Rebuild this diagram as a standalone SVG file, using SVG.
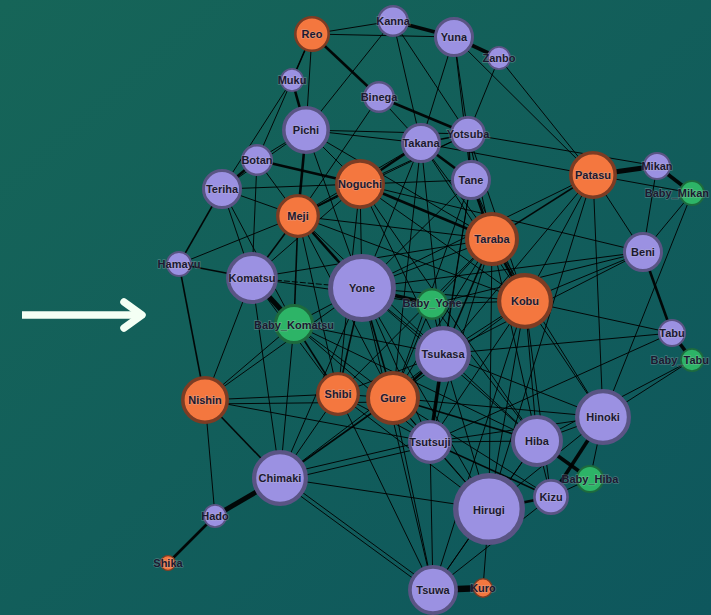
<svg xmlns="http://www.w3.org/2000/svg" width="711" height="615" viewBox="0 0 711 615">
<defs>
<linearGradient id="bg" x1="0" y1="0" x2="1" y2="1">
<stop offset="0" stop-color="#166558"/>
<stop offset="1" stop-color="#0e575d"/>
</linearGradient>
<style>
.ed line{stroke:#000;stroke-width:1;stroke-opacity:0.92}
.ed .w2{stroke-width:1.6}
.ed .w3{stroke-width:2.6}
.ed .w4{stroke-width:3.6}
.ed .w5{stroke-width:5}
.ed .w6{stroke-width:6.5}
.p circle{fill:#9b91e2;stroke:#5a5484}
.o circle{fill:#f4773f;stroke:#7c3c24}
.g circle{fill:#2db467;stroke:#1d6a3e}
text{font-family:"Liberation Sans",Arial,sans-serif;font-weight:bold;font-size:11px;fill:#1c1930;text-anchor:middle;paint-order:stroke;stroke:#c8c8d0;stroke-opacity:0.3;stroke-width:1.4}
text.r{text-anchor:end}
</style>
</defs>
<rect width="711" height="615" fill="url(#bg)"/>
<g id="arrow" stroke="#f4fff4" stroke-width="7.5" stroke-linecap="round" stroke-linejoin="round" fill="none">
<line x1="22" y1="315" x2="141" y2="315" stroke-linecap="butt"/>
<polyline points="124,302 142,315 124,328"/>
</g>
<g id="edges" class="ed">
<line x1="312" y1="34" x2="393" y2="21"/>
<line x1="312" y1="34" x2="454" y2="37"/>
<line class="w4" x1="393" y1="21" x2="454" y2="37"/>
<line class="w3" x1="312" y1="34" x2="379" y2="97"/>
<line class="w2" x1="312" y1="34" x2="292" y2="80"/>
<line x1="312" y1="34" x2="306" y2="130"/>
<line x1="312" y1="34" x2="257" y2="160"/>
<line x1="393" y1="21" x2="306" y2="130"/>
<line x1="393" y1="21" x2="421" y2="143"/>
<line x1="393" y1="21" x2="468" y2="134"/>
<line class="w3" x1="292" y1="80" x2="306" y2="130"/>
<line x1="292" y1="80" x2="222" y2="189"/>
<line x1="379" y1="97" x2="298" y2="216"/>
<line x1="379" y1="97" x2="421" y2="143"/>
<line class="w3" x1="379" y1="97" x2="468" y2="134"/>
<line x1="306" y1="130" x2="421" y2="143"/>
<line x1="306" y1="130" x2="468" y2="134"/>
<line x1="306" y1="130" x2="257" y2="160"/>
<line x1="306" y1="130" x2="222" y2="189"/>
<line class="w3" x1="306" y1="130" x2="298" y2="216"/>
<line x1="306" y1="130" x2="360" y2="184"/>
<line x1="306" y1="130" x2="362" y2="288"/>
<line x1="306" y1="130" x2="492" y2="239"/>
<line class="w3" x1="257" y1="160" x2="222" y2="189"/>
<line class="w3" x1="257" y1="160" x2="360" y2="184"/>
<line x1="257" y1="160" x2="298" y2="216"/>
<line x1="257" y1="160" x2="252" y2="278"/>
<line class="w2" x1="222" y1="189" x2="179" y2="264"/>
<line x1="222" y1="189" x2="252" y2="278"/>
<line x1="222" y1="189" x2="294" y2="324"/>
<line x1="222" y1="189" x2="360" y2="184"/>
<line class="w3" x1="421" y1="143" x2="360" y2="184"/>
<line class="w3" x1="421" y1="143" x2="471" y2="180"/>
<line class="w2" x1="421" y1="143" x2="468" y2="134"/>
<line x1="421" y1="143" x2="593" y2="175"/>
<line x1="421" y1="143" x2="298" y2="216"/>
<line x1="421" y1="143" x2="362" y2="288"/>
<line x1="421" y1="143" x2="492" y2="239"/>
<line x1="421" y1="143" x2="525" y2="301"/>
<line x1="421" y1="143" x2="443" y2="354"/>
<line x1="421" y1="143" x2="393" y2="398"/>
<line class="w4" x1="454" y1="37" x2="499" y2="58"/>
<line x1="454" y1="37" x2="421" y2="143"/>
<line x1="454" y1="37" x2="468" y2="134"/>
<line x1="454" y1="37" x2="471" y2="180"/>
<line x1="454" y1="37" x2="593" y2="175"/>
<line x1="499" y1="58" x2="468" y2="134"/>
<line x1="499" y1="58" x2="593" y2="175"/>
<line class="w2" x1="468" y1="134" x2="471" y2="180"/>
<line x1="468" y1="134" x2="657" y2="166"/>
<line x1="468" y1="134" x2="360" y2="184"/>
<line x1="468" y1="134" x2="298" y2="216"/>
<line x1="468" y1="134" x2="525" y2="301"/>
<line x1="468" y1="134" x2="537" y2="441"/>
<line class="w2" x1="360" y1="184" x2="298" y2="216"/>
<line x1="360" y1="184" x2="471" y2="180"/>
<line class="w3" x1="360" y1="184" x2="492" y2="239"/>
<line x1="360" y1="184" x2="362" y2="288"/>
<line x1="360" y1="184" x2="525" y2="301"/>
<line x1="360" y1="184" x2="643" y2="252"/>
<line x1="360" y1="184" x2="443" y2="354"/>
<line x1="360" y1="184" x2="252" y2="278"/>
<line x1="360" y1="184" x2="338" y2="394"/>
<line x1="360" y1="184" x2="537" y2="441"/>
<line class="w3" x1="471" y1="180" x2="492" y2="239"/>
<line x1="471" y1="180" x2="362" y2="288"/>
<line x1="471" y1="180" x2="443" y2="354"/>
<line x1="471" y1="180" x2="393" y2="398"/>
<line x1="471" y1="180" x2="525" y2="301"/>
<line x1="471" y1="180" x2="430" y2="442"/>
<line class="w5" x1="593" y1="175" x2="657" y2="166"/>
<line x1="593" y1="175" x2="692" y2="193"/>
<line class="w2" x1="593" y1="175" x2="492" y2="239"/>
<line x1="593" y1="175" x2="643" y2="252"/>
<line x1="593" y1="175" x2="603" y2="417"/>
<line x1="593" y1="175" x2="362" y2="288"/>
<line x1="593" y1="175" x2="443" y2="354"/>
<line x1="593" y1="175" x2="525" y2="301"/>
<line x1="593" y1="175" x2="489" y2="509"/>
<line class="w4" x1="657" y1="166" x2="692" y2="193"/>
<line x1="657" y1="166" x2="643" y2="252"/>
<line x1="692" y1="193" x2="643" y2="252"/>
<line x1="692" y1="193" x2="603" y2="417"/>
<line class="w3" x1="643" y1="252" x2="672" y2="333"/>
<line x1="643" y1="252" x2="525" y2="301"/>
<line x1="643" y1="252" x2="443" y2="354"/>
<line x1="643" y1="252" x2="432" y2="304"/>
<line x1="643" y1="252" x2="362" y2="288"/>
<line class="w4" x1="672" y1="333" x2="692" y2="360"/>
<line x1="672" y1="333" x2="525" y2="301"/>
<line x1="672" y1="333" x2="443" y2="354"/>
<line x1="672" y1="333" x2="430" y2="442"/>
<line x1="692" y1="360" x2="603" y2="417"/>
<line x1="692" y1="360" x2="537" y2="441"/>
<line class="w2" x1="298" y1="216" x2="252" y2="278"/>
<line x1="298" y1="216" x2="179" y2="264"/>
<line class="w3" x1="298" y1="216" x2="362" y2="288"/>
<line class="w2" x1="298" y1="216" x2="294" y2="324"/>
<line x1="298" y1="216" x2="492" y2="239"/>
<line x1="298" y1="216" x2="338" y2="394"/>
<line x1="298" y1="216" x2="443" y2="354"/>
<line x1="298" y1="216" x2="525" y2="301"/>
<line x1="298" y1="216" x2="393" y2="398"/>
<line x1="298" y1="216" x2="222" y2="189"/>
<line class="w3" x1="492" y1="239" x2="525" y2="301"/>
<line x1="492" y1="239" x2="362" y2="288"/>
<line x1="492" y1="239" x2="432" y2="304"/>
<line class="w2" x1="492" y1="239" x2="443" y2="354"/>
<line x1="492" y1="239" x2="393" y2="398"/>
<line x1="492" y1="239" x2="338" y2="394"/>
<line x1="492" y1="239" x2="252" y2="278"/>
<line x1="492" y1="239" x2="489" y2="509"/>
<line x1="492" y1="239" x2="430" y2="442"/>
<line x1="492" y1="239" x2="603" y2="417"/>
<line class="w2" x1="179" y1="264" x2="252" y2="278"/>
<line class="w2" x1="179" y1="264" x2="205" y2="400"/>
<line x1="252" y1="278" x2="362" y2="288" stroke-dasharray="6 2"/>
<line class="w5" x1="252" y1="278" x2="294" y2="324"/>
<line x1="252" y1="278" x2="205" y2="400"/>
<line x1="252" y1="278" x2="338" y2="394"/>
<line x1="252" y1="278" x2="280" y2="478"/>
<line x1="252" y1="278" x2="432" y2="304"/>
<line class="w4" x1="362" y1="288" x2="432" y2="304"/>
<line x1="362" y1="288" x2="525" y2="301"/>
<line x1="362" y1="288" x2="443" y2="354"/>
<line class="w2" x1="362" y1="288" x2="338" y2="394"/>
<line class="w2" x1="362" y1="288" x2="393" y2="398"/>
<line x1="362" y1="288" x2="205" y2="400"/>
<line x1="362" y1="288" x2="280" y2="478"/>
<line x1="362" y1="288" x2="430" y2="442"/>
<line x1="362" y1="288" x2="537" y2="441"/>
<line x1="362" y1="288" x2="489" y2="509"/>
<line x1="362" y1="288" x2="294" y2="324"/>
<line x1="362" y1="288" x2="433" y2="590"/>
<line x1="432" y1="304" x2="525" y2="301"/>
<line x1="432" y1="304" x2="443" y2="354"/>
<line x1="432" y1="304" x2="393" y2="398"/>
<line x1="432" y1="304" x2="537" y2="441"/>
<line x1="525" y1="301" x2="443" y2="354"/>
<line x1="525" y1="301" x2="603" y2="417"/>
<line x1="525" y1="301" x2="537" y2="441"/>
<line x1="525" y1="301" x2="489" y2="509"/>
<line x1="525" y1="301" x2="430" y2="442"/>
<line x1="525" y1="301" x2="393" y2="398"/>
<line x1="525" y1="301" x2="551" y2="497"/>
<line x1="525" y1="301" x2="433" y2="590"/>
<line x1="294" y1="324" x2="205" y2="400"/>
<line class="w2" x1="294" y1="324" x2="338" y2="394"/>
<line x1="294" y1="324" x2="393" y2="398"/>
<line x1="294" y1="324" x2="280" y2="478"/>
<line x1="294" y1="324" x2="443" y2="354"/>
<line x1="294" y1="324" x2="537" y2="441"/>
<line x1="294" y1="324" x2="430" y2="442"/>
<line class="w3" x1="443" y1="354" x2="393" y2="398"/>
<line class="w4" x1="443" y1="354" x2="430" y2="442"/>
<line x1="443" y1="354" x2="537" y2="441"/>
<line x1="443" y1="354" x2="603" y2="417"/>
<line x1="443" y1="354" x2="489" y2="509"/>
<line x1="443" y1="354" x2="280" y2="478"/>
<line x1="443" y1="354" x2="338" y2="394"/>
<line x1="205" y1="400" x2="338" y2="394"/>
<line x1="205" y1="404" x2="393" y2="402"/>
<line class="w2" x1="205" y1="400" x2="280" y2="478"/>
<line x1="205" y1="400" x2="215" y2="516"/>
<line x1="205" y1="400" x2="430" y2="442"/>
<line x1="338" y1="394" x2="393" y2="398"/>
<line x1="338" y1="394" x2="280" y2="478"/>
<line x1="338" y1="394" x2="430" y2="442"/>
<line x1="338" y1="394" x2="489" y2="509"/>
<line x1="338" y1="394" x2="433" y2="590"/>
<line class="w2" x1="393" y1="398" x2="280" y2="478"/>
<line x1="393" y1="398" x2="430" y2="442"/>
<line class="w2" x1="393" y1="398" x2="537" y2="441"/>
<line x1="393" y1="398" x2="489" y2="509"/>
<line x1="393" y1="398" x2="603" y2="417"/>
<line x1="393" y1="398" x2="551" y2="497"/>
<line x1="393" y1="398" x2="433" y2="590"/>
<line x1="603" y1="417" x2="537" y2="441"/>
<line class="w4" x1="603" y1="417" x2="551" y2="497"/>
<line x1="603" y1="417" x2="590" y2="479"/>
<line x1="603" y1="417" x2="489" y2="509"/>
<line x1="603" y1="417" x2="430" y2="442"/>
<line x1="430" y1="442" x2="537" y2="441"/>
<line class="w2" x1="430" y1="442" x2="551" y2="497"/>
<line x1="430" y1="442" x2="489" y2="509"/>
<line x1="430" y1="440" x2="280" y2="475"/>
<line x1="430" y1="446" x2="280" y2="481"/>
<line x1="430" y1="442" x2="433" y2="590"/>
<line class="w4" x1="537" y1="441" x2="590" y2="479"/>
<line x1="537" y1="441" x2="551" y2="497"/>
<line x1="537" y1="441" x2="489" y2="509"/>
<line x1="537" y1="441" x2="433" y2="590"/>
<line class="w5" x1="280" y1="478" x2="215" y2="516"/>
<line x1="280" y1="476" x2="433" y2="588"/>
<line x1="280" y1="481" x2="433" y2="593"/>
<line x1="280" y1="478" x2="489" y2="509"/>
<line class="w3" x1="551" y1="497" x2="489" y2="509"/>
<line x1="551" y1="497" x2="590" y2="479"/>
<line x1="551" y1="497" x2="433" y2="590"/>
<line x1="489" y1="509" x2="433" y2="590"/>
<line x1="489" y1="509" x2="483" y2="588"/>
<line class="w6" x1="433" y1="590" x2="483" y2="588"/>
<line class="w3" x1="215" y1="516" x2="168" y2="563"/>
</g>
<g id="Reo" class="o"><circle cx="312" cy="34" r="16.7" stroke-width="2.6"/><text x="312" y="38">Reo</text></g>
<g id="Kanna" class="p"><circle cx="393" cy="21" r="14.8" stroke-width="2.4"/><text x="393" y="25">Kanna</text></g>
<g id="Yuna" class="p"><circle cx="454" cy="37" r="18.5" stroke-width="3"/><text x="454" y="41">Yuna</text></g>
<g id="Zanbo" class="p"><circle cx="499" cy="58" r="11.1" stroke-width="1.8"/><text x="499" y="62">Zanbo</text></g>
<g id="Muku" class="p"><circle cx="292" cy="80" r="11.1" stroke-width="1.8"/><text x="292" y="84">Muku</text></g>
<g id="Binega" class="p"><circle cx="379" cy="97" r="14.8" stroke-width="2.4"/><text x="379" y="101">Binega</text></g>
<g id="Pichi" class="p"><circle cx="306" cy="130" r="22.2" stroke-width="3.6"/><text x="306" y="134">Pichi</text></g>
<g id="Takana" class="p"><circle cx="421" cy="143" r="18.5" stroke-width="3"/><text x="421" y="147">Takana</text></g>
<g id="Yotsuba" class="p"><circle cx="468" cy="134" r="16.6" stroke-width="2.7"/><text x="468" y="138">Yotsuba</text></g>
<g id="Botan" class="p"><circle cx="257" cy="160" r="14.8" stroke-width="2.4"/><text x="257" y="164">Botan</text></g>
<g id="Teriha" class="p"><circle cx="222" cy="189" r="18.5" stroke-width="3"/><text x="222" y="193">Teriha</text></g>
<g id="Noguchi" class="o"><circle cx="360" cy="184" r="23.1" stroke-width="3.7"/><text x="360" y="188">Noguchi</text></g>
<g id="Tane" class="p"><circle cx="471" cy="180" r="18.5" stroke-width="3"/><text x="471" y="184">Tane</text></g>
<g id="Patasu" class="o"><circle cx="593" cy="175" r="22.2" stroke-width="3.6"/><text x="593" y="179">Patasu</text></g>
<g id="Mikan" class="p"><circle cx="657" cy="166" r="13" stroke-width="2.1"/><text x="657" y="170">Mikan</text></g>
<g id="Baby_Mikan" class="g"><circle cx="692" cy="193" r="12" stroke-width="2"/><text class="r" x="709" y="197">Baby_Mikan</text></g>
<g id="Meji" class="o"><circle cx="298" cy="216" r="20.3" stroke-width="3.3"/><text x="298" y="220">Meji</text></g>
<g id="Taraba" class="o"><circle cx="492" cy="239" r="25" stroke-width="4"/><text x="492" y="243">Taraba</text></g>
<g id="Beni" class="p"><circle cx="643" cy="252" r="18.5" stroke-width="3"/><text x="643" y="256">Beni</text></g>
<g id="Hamayu" class="p"><circle cx="179" cy="264" r="12" stroke-width="2"/><text x="179" y="268">Hamayu</text></g>
<g id="Komatsu" class="p"><circle cx="252" cy="278" r="24" stroke-width="3.9"/><text x="252" y="282">Komatsu</text></g>
<g id="Yone" class="p"><circle cx="362" cy="288" r="31.5" stroke-width="5"/><text x="362" y="292">Yone</text></g>
<g id="Baby_Yone" class="g"><circle cx="432" cy="304" r="14.8" stroke-width="2.4"/><text x="432" y="307">Baby_Yone</text></g>
<g id="Kobu" class="o"><circle cx="525" cy="301" r="25.9" stroke-width="4.2"/><text x="525" y="305">Kobu</text></g>
<g id="Baby_Komatsu" class="g"><circle cx="294" cy="324" r="18.5" stroke-width="3"/><text x="294" y="329">Baby_Komatsu</text></g>
<g id="Tabu" class="p"><circle cx="672" cy="333" r="13" stroke-width="2.1"/><text x="672" y="337">Tabu</text></g>
<g id="Baby_Tabu" class="g"><circle cx="692" cy="360" r="11.1" stroke-width="1.8"/><text class="r" x="709" y="364">Baby_Tabu</text></g>
<g id="Tsukasa" class="p"><circle cx="443" cy="354" r="25.9" stroke-width="4.2"/><text x="443" y="358">Tsukasa</text></g>
<g id="Nishin" class="o"><circle cx="205" cy="400" r="22.2" stroke-width="3.6"/><text x="205" y="404">Nishin</text></g>
<g id="Shibi" class="o"><circle cx="338" cy="394" r="20.3" stroke-width="3.3"/><text x="338" y="398">Shibi</text></g>
<g id="Gure" class="o"><circle cx="393" cy="398" r="25" stroke-width="4"/><text x="393" y="402">Gure</text></g>
<g id="Hinoki" class="p"><circle cx="603" cy="417" r="25.9" stroke-width="4.2"/><text x="603" y="421">Hinoki</text></g>
<g id="Tsutsuji" class="p"><circle cx="430" cy="442" r="20.3" stroke-width="3.3"/><text x="430" y="446">Tsutsuji</text></g>
<g id="Hiba" class="p"><circle cx="537" cy="441" r="24" stroke-width="3.9"/><text x="537" y="445">Hiba</text></g>
<g id="Chimaki" class="p"><circle cx="280" cy="478" r="25.9" stroke-width="4.2"/><text x="280" y="482">Chimaki</text></g>
<g id="Baby_Hiba" class="g"><circle cx="590" cy="479" r="13" stroke-width="2.1"/><text x="590" y="483">Baby_Hiba</text></g>
<g id="Kizu" class="p"><circle cx="551" cy="497" r="16.6" stroke-width="2.7"/><text x="551" y="501">Kizu</text></g>
<g id="Hirugi" class="p"><circle cx="489" cy="509" r="33.3" stroke-width="5.4"/><text x="489" y="514">Hirugi</text></g>
<g id="Hado" class="p"><circle cx="215" cy="516" r="11.1" stroke-width="1.8"/><text x="215" y="520">Hado</text></g>
<g id="Shika" class="o"><circle cx="168" cy="563" r="7.4" stroke-width="1.2"/><text x="168" y="567">Shika</text></g>
<g id="Tsuwa" class="p"><circle cx="433" cy="590" r="23.1" stroke-width="3.7"/><text x="433" y="594">Tsuwa</text></g>
<g id="Kuro" class="o"><circle cx="483" cy="588" r="9.2" stroke-width="1.5"/><text x="483" y="592">Kuro</text></g>
</svg>
